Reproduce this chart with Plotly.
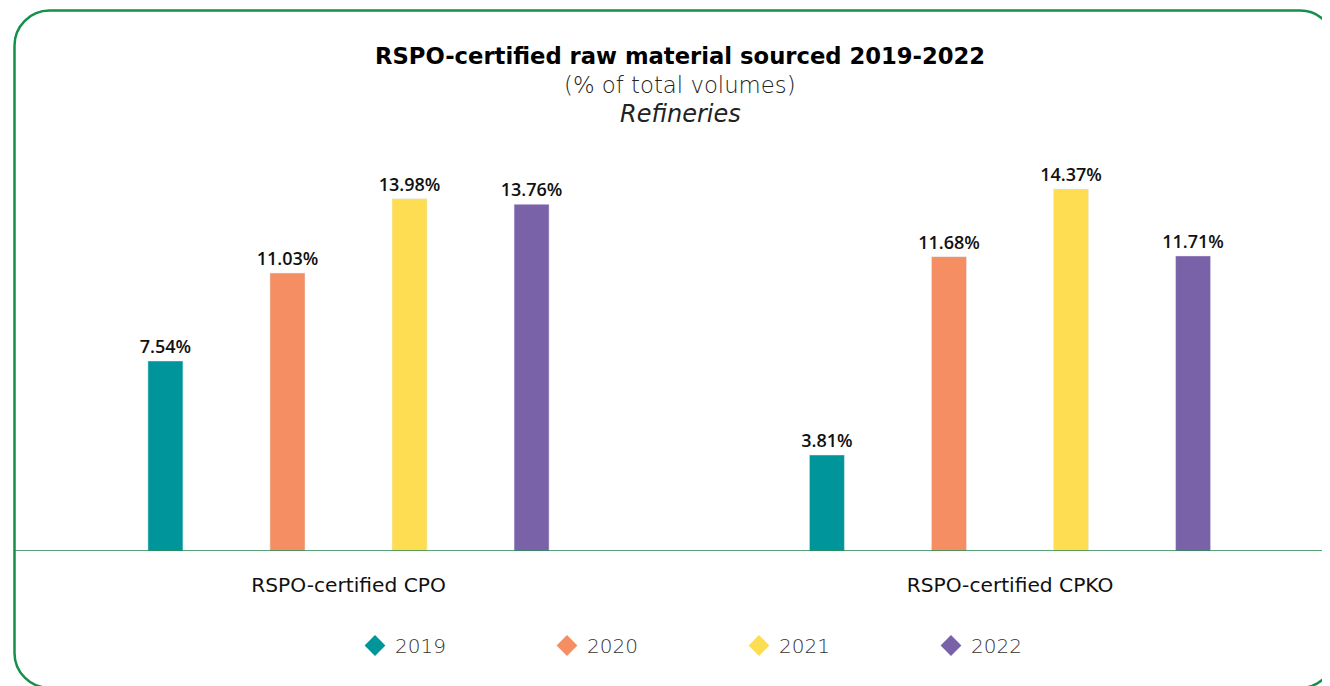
import plotly.graph_objects as go

categories = ["RSPO-certified CPO", "RSPO-certified CPKO"]
years = ["2019", "2020", "2021", "2022"]
values = {
    "2019": [7.54, 3.81],
    "2020": [11.03, 11.68],
    "2021": [13.98, 14.37],
    "2022": [13.76, 11.71],
}
colors = {"2019": "#00959B", "2020": "#F58E62", "2021": "#FFDD52", "2022": "#7A62A9"}

# page body has an 8px margin; work in figure pixel coordinates
O = 8
W, H = 1330, 686
L, R, T, B = 14 - O, 0, 130 - O, H - (551 - O)
PW, PH = W - L - R, H - T - B

FONT = "Open Sans, Lato, sans-serif"
WIDE = "DejaVu Sans, Open Sans, sans-serif"

fig = go.Figure()
for y in years:
    fig.add_trace(go.Bar(
        x=categories, y=values[y], name=y, marker_color=colors[y],
        showlegend=False, text=[f"{v:.2f}%" for v in values[y]],
        textposition="outside", cliponaxis=False, constraintext="none",
        textfont=dict(family=FONT, size=18, color="#111111", weight=600),
    ))
for y in years:
    fig.add_trace(go.Scatter(
        x=[None], y=[None], mode="markers", name=y,
        marker=dict(symbol="diamond", size=16, color=colors[y]),
    ))


def px(x):
    return (x - O - L) / PW


def py(y):
    return (H - B - (y - O)) / PH


# rounded border (screen coords)
x0, y0, x1, y1, r = 14.5, 10.5, 1335, 688, 35
path = (
    f"M {px(x0)},{py(y0 + r)} "
    f"C {px(x0)},{py(y0 + r * 0.45)} {px(x0 + r * 0.45)},{py(y0)} {px(x0 + r)},{py(y0)} "
    f"L {px(x1 - r)},{py(y0)} "
    f"C {px(x1 - r * 0.45)},{py(y0)} {px(x1)},{py(y0 + r * 0.45)} {px(x1)},{py(y0 + r)} "
    f"L {px(x1)},{py(y1 - r)} "
    f"C {px(x1)},{py(y1 - r * 0.45)} {px(x1 - r * 0.45)},{py(y1)} {px(x1 - r)},{py(y1)} "
    f"L {px(x0 + r)},{py(y1)} "
    f"C {px(x0 + r * 0.45)},{py(y1)} {px(x0)},{py(y1 - r * 0.45)} {px(x0)},{py(y1 - r)} Z"
)
fig.add_shape(type="path", path=path, xref="paper", yref="paper",
              line=dict(color="#14904A", width=2.5), layer="above")

fig.add_annotation(text="RSPO-certified raw material sourced 2019-2022",
                   xref="paper", yref="paper", x=px(680), y=py(56), showarrow=False,
                   xanchor="center", yanchor="middle",
                   font=dict(family=WIDE, size=22.7, color="#000000", weight=700))
fig.add_annotation(text="(% of total volumes)",
                   xref="paper", yref="paper", x=px(680), y=py(85), showarrow=False,
                   xanchor="center", yanchor="middle",
                   font=dict(family=WIDE, size=22.8, color="#222222", weight=200))
fig.add_annotation(text="<i>Refineries</i>",
                   xref="paper", yref="paper", x=px(680), y=py(114), showarrow=False,
                   xanchor="center", yanchor="middle",
                   font=dict(family=WIDE, size=24, color="#222222", weight=200))

cat0 = 348.5 - O
x_per = 661.5
fig.update_layout(
    width=W, height=H,
    margin=dict(l=L, r=R, t=T, b=B, pad=0),
    paper_bgcolor="white", plot_bgcolor="white",
    barmode="group", bargap=0.262, bargroupgap=0.713,
    xaxis=dict(
        range=[(L - cat0) / x_per, (W - cat0) / x_per],
        showgrid=False, zeroline=False, showline=False,
        ticks="", ticklabelstandoff=20,
        tickfont=dict(family=WIDE, size=20.2, color="#111111", weight=500),
    ),
    yaxis=dict(range=[0, PH / 25.2], visible=False, showgrid=False, zeroline=False),
    showlegend=True,
    legend=dict(orientation="h", x=px(355), y=py(626), xanchor="left", yanchor="top",
                entrywidth=147, entrywidthmode="pixels",
                font=dict(family=WIDE, size=20, color="#333333", weight=200),
                bgcolor="rgba(0,0,0,0)"),
    shapes=list(fig.layout.shapes) + [dict(type="line", xref="paper", yref="y",
                x0=0, x1=1, y0=0, y1=0, line=dict(color="#23844B", width=1.5))],
)

fig.write_html("out.html")
